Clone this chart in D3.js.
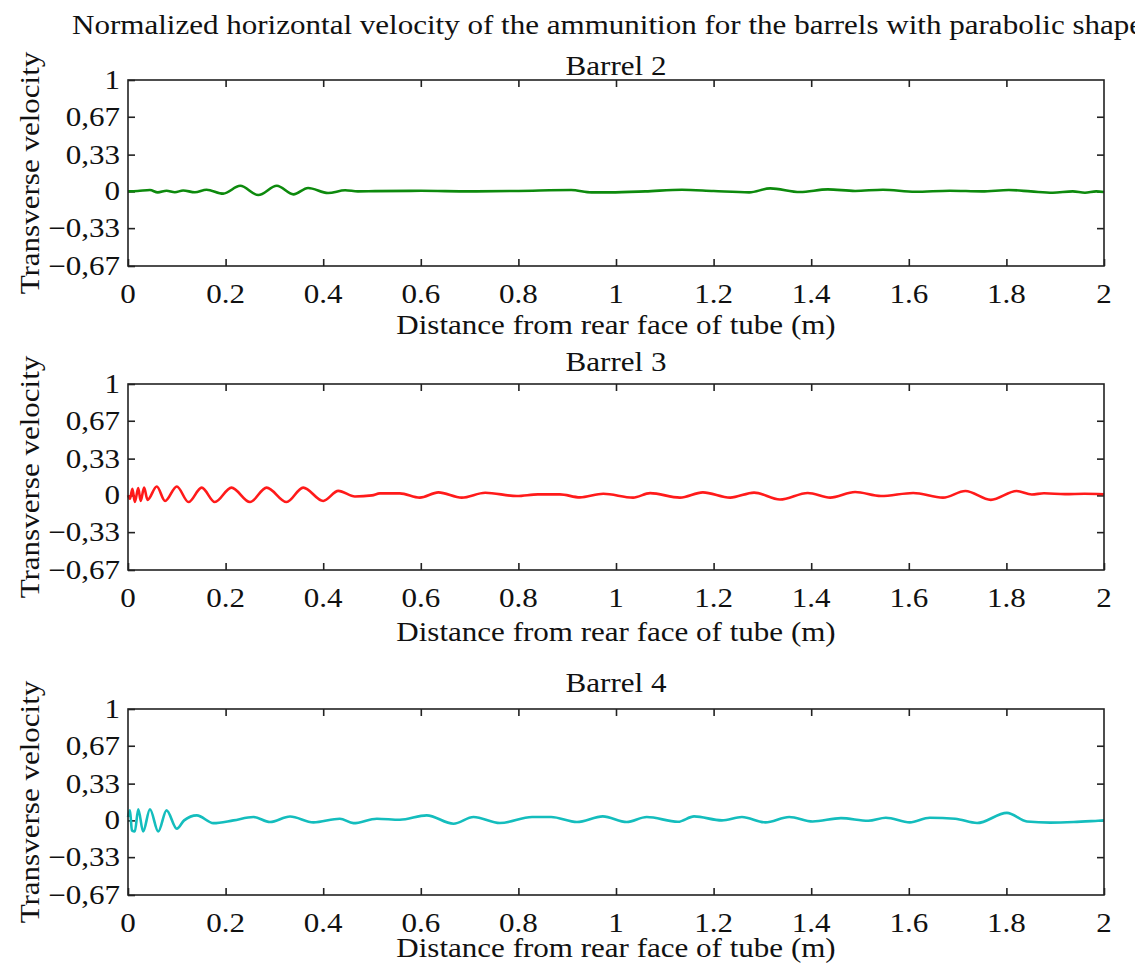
<!DOCTYPE html>
<html>
<head>
<meta charset="utf-8">
<script src="https://cdn.jsdelivr.net/npm/d3@7"></script>
<style>
  body { margin: 0; background: #fff; }
  svg text { font-family: "Liberation Serif", "Times New Roman", Times, serif; fill: #111; }
</style>
</head>
<body>
<svg id="chart" width="1135" height="965"></svg>
<script>
// ---- data ----
const chartTitle = "Normalized horizontal velocity of the ammunition for the barrels with parabolic shape";
const panelTitles = ["Barrel 2", "Barrel 3", "Barrel 4"];
const xTicks = [0, 0.2, 0.4, 0.6, 0.8, 1, 1.2, 1.4, 1.6, 1.8, 2];
const yTicks = [1, 0.67, 0.33, 0, -0.33, -0.67];
const yTickLabels = ["1", "0,67", "0,33", "0", "\u22120,33", "\u22120,67"];

// Barrel 2 (green)
const barrel2X = [0, 0.02, 0.045, 0.061, 0.079, 0.096, 0.113, 0.137, 0.161, 0.195, 0.23, 0.267, 0.305, 0.339, 0.369, 0.41, 0.445, 0.471, 0.506,
  0.6, 0.7, 0.8, 0.908, 0.95, 0.988, 1.06, 1.135, 1.2, 1.273, 1.316, 1.377, 1.434, 1.49, 1.547, 1.613, 1.684, 1.75, 1.805, 1.85, 1.895, 1.936, 1.961, 1.984, 2.0];
const barrel2V = [0, 0.003, 0.012, -0.009, 0.006, -0.008, 0.008, -0.008, 0.015, -0.02, 0.05, -0.033, 0.05, -0.027, 0.03, -0.015, 0.01, 0.0, 0.002,
  0.005, 0.0, 0.004, 0.012, -0.009, -0.009, 0.0, 0.015, 0.003, -0.009, 0.027, -0.006, 0.018, 0.004, 0.015, -0.003, 0.006, 0.0, 0.012, 0.0, -0.012, 0.0, -0.012, 0.0, -0.005];

// Barrel 3 (red)
const barrel3X = [0, 0.004, 0.009, 0.014, 0.021, 0.026, 0.033, 0.04, 0.059, 0.076, 0.1, 0.124, 0.151, 0.178, 0.212, 0.25, 0.284, 0.325, 0.359, 0.4, 0.431, 0.465, 0.5,
  0.516, 0.557, 0.598, 0.636, 0.684, 0.732, 0.797, 0.84, 0.885, 0.926, 0.974, 1.035, 1.07, 1.131, 1.178, 1.234, 1.283, 1.336, 1.393, 1.439, 1.49, 1.543, 1.609, 1.67,
  1.716, 1.768, 1.821, 1.852, 1.877, 1.92, 1.96, 2.0];
const barrel3V = [0, -0.03, 0.06, -0.06, 0.065, -0.05, 0.07, -0.04, 0.08, -0.05, 0.08, -0.06, 0.07, -0.06, 0.07, -0.06, 0.07, -0.06, 0.07, -0.05, 0.04, -0.01, 0.0,
  0.018, 0.018, -0.02, 0.027, -0.02, 0.024, -0.006, 0.009, 0.009, -0.018, 0.015, -0.02, 0.02, -0.02, 0.027, -0.02, 0.025, -0.037, 0.022, -0.02, 0.03, -0.006, 0.022, -0.02,
  0.039, -0.04, 0.039, 0.008, 0.019, 0.011, 0.014, 0.01];

// Barrel 4 (cyan)
const barrel4X = [0, 0.004, 0.008, 0.014, 0.021, 0.031, 0.045, 0.062, 0.079, 0.1, 0.115, 0.141, 0.175, 0.216, 0.257, 0.291, 0.332, 0.38, 0.434, 0.462, 0.51, 0.557,
  0.612, 0.667, 0.708, 0.762, 0.828, 0.867, 0.92, 0.973, 1.022, 1.063, 1.127, 1.16, 1.217, 1.258, 1.306, 1.355, 1.403, 1.461, 1.517, 1.553, 1.602, 1.643, 1.695,
  1.74, 1.801, 1.842, 1.89, 1.938, 1.988, 2.0];
const barrel4V = [0.03, 0.09, -0.09, -0.1, 0.1, -0.1, 0.1, -0.1, 0.09, -0.075, 0.0, 0.045, -0.025, 0.0, 0.03, -0.015, 0.035, -0.018, 0.015, -0.025, 0.015, 0.005,
  0.045, -0.03, 0.03, -0.024, 0.03, 0.03, -0.015, 0.036, -0.015, 0.03, -0.012, 0.036, 0.0, 0.03, -0.018, 0.03, -0.01, 0.02, -0.003, 0.024, -0.018, 0.024, 0.015,
  -0.024, 0.067, -0.01, -0.02, -0.015, -0.003, 0.0];

const panels = [
  { title: panelTitles[0], xs: barrel2X, vs: barrel2V, color: "#0d8a0d" },
  { title: panelTitles[1], xs: barrel3X, vs: barrel3V, color: "#ff1a1a" },
  { title: panelTitles[2], xs: barrel4X, vs: barrel4V, color: "#14bdbd" }
];

// ---- layout ----
const left = 128, right = 1104;
const plotH = 186;
const tops = [80, 384, 709];
const subTitleY = [75, 371, 692];
const xLabelY = [334, 641, 957];
const fontSize = 27;
const sx = 1.15; // the reference text is a bit wider than plain Times

const svg = d3.select("#chart");

// text helper: stretched a little horizontally around its anchor point
function label(parent, x0, y0, str, anchor, rot) {
  return parent.append("text")
    .attr("transform", `translate(${x0},${y0})` + (rot ? ` rotate(${rot})` : "") + ` scale(${sx},1)`)
    .attr("text-anchor", anchor)
    .style("font-size", fontSize + "px")
    .text(str);
}

label(svg, 72, 34, chartTitle, "start");

const x = d3.scaleLinear().domain([0, 2]).range([left, right]);

panels.forEach((p, i) => {
  const top = tops[i];
  const y = d3.scaleLinear().domain([-0.67, 1]).range([top + plotH, top]);
  const g = svg.append("g");

  // ticks on all four sides, pointing in
  g.append("g")
    .attr("transform", `translate(0,${top + plotH})`)
    .call(d3.axisBottom(x).tickValues(xTicks).tickSize(-7).tickFormat(""))
    .call(a => a.select(".domain").remove());
  g.append("g")
    .attr("transform", `translate(0,${top})`)
    .call(d3.axisTop(x).tickValues(xTicks.slice(1, -1)).tickSize(-7).tickFormat(""))
    .call(a => a.select(".domain").remove());
  g.append("g")
    .attr("transform", `translate(${left},0)`)
    .call(d3.axisLeft(y).tickValues(yTicks).tickSize(-7).tickFormat(""))
    .call(a => a.select(".domain").remove());
  g.append("g")
    .attr("transform", `translate(${right},0)`)
    .call(d3.axisRight(y).tickValues(yTicks.slice(1, -1)).tickSize(-7).tickFormat(""))
    .call(a => a.select(".domain").remove());
  g.selectAll(".tick line").attr("stroke", "#222").attr("stroke-width", 1.6);

  // tick labels
  xTicks.forEach(t => label(g, x(t), top + plotH + 37, d3.format("")(t), "middle"));
  yTicks.forEach((t, k) => label(g, left - 8, y(t) + 9, yTickLabels[k], "end"));

  // the curve
  const line = d3.line()
    .x((d, k) => x(p.xs[k]))
    .y(d => y(d))
    .curve(d3.curveMonotoneX);
  g.append("path")
    .datum(p.vs)
    .attr("d", line)
    .attr("fill", "none")
    .attr("stroke", p.color)
    .attr("stroke-width", 2.6)
    .attr("stroke-linejoin", "round");

  // box
  g.append("rect")
    .attr("x", left)
    .attr("y", top)
    .attr("width", right - left)
    .attr("height", plotH)
    .attr("fill", "none")
    .attr("stroke", "#222")
    .attr("stroke-width", 1.6);

  label(g, (left + right) / 2, subTitleY[i], p.title, "middle");
  label(g, (left + right) / 2, xLabelY[i], "Distance from rear face of tube (m)", "middle");
  label(g, 39, top + plotH / 2, "Transverse velocity", "middle", -90);
});
</script>
</body>
</html>
